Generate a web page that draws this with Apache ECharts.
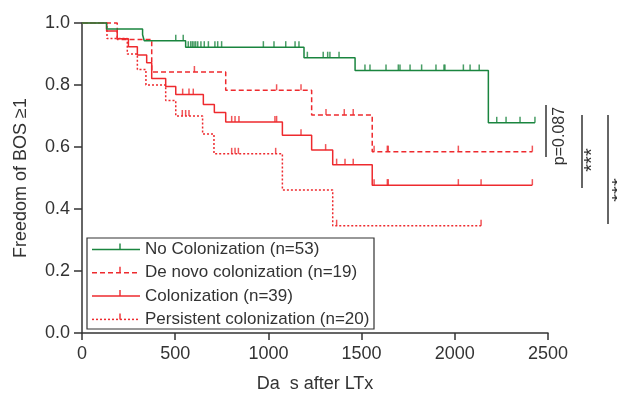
<!DOCTYPE html>
<html>
<head>
<meta charset="utf-8">
<script src="https://cdn.jsdelivr.net/npm/echarts@6/dist/echarts.min.js"></script>
<style>
html,body{margin:0;padding:0;background:#fff;}
#main{width:617px;height:398px;}
</style>
</head>
<body>
<div id="main"></div>
<script>
// groups
var groupNames = ['No Colonization (n=53)', 'De novo colonization (n=19)', 'Colonization (n=39)', 'Persistent colonization (n=20)'];
var groupColors = ['#1a853f', '#ee2a2e', '#ee2a2e', '#ee2a2e'];
var groupDash = ['solid', [5, 3], 'solid', [2, 2]];

// event times (days) and survival after each event
var noColTimes = [132, 325, 334, 556, 1191, 1465, 2180];
var noColSurv = [0.981, 0.962, 0.943, 0.922, 0.888, 0.847, 0.678];
var noColEnd = 2430;
var noColCensor = [503, 543, 570, 583, 592, 601, 610, 621, 638, 656, 678, 713, 728, 749, 973, 1030, 1093, 1143, 1164,
	1209, 1294, 1318, 1330, 1379, 1518, 1545, 1631, 1697, 1706, 1760, 1822, 1899, 1942, 1947, 2046, 2082, 2131,
	2225, 2275, 2350, 2430];

var deNovoTimes = [189, 374, 771, 1232, 1557];
var deNovoSurv = [0.947, 0.842, 0.783, 0.703, 0.585];
var deNovoEnd = 2416;
var deNovoCensor = [603, 1044, 1175, 1309, 1407, 1455, 1567, 1638, 1643, 2019, 2416];

var colTimes = [132, 189, 249, 297, 347, 374, 449, 503, 651, 710, 771, 1075, 1232, 1345, 1557];
var colSurv = [0.974, 0.949, 0.923, 0.897, 0.872, 0.821, 0.795, 0.769, 0.737, 0.711, 0.681, 0.638, 0.590, 0.543, 0.477];
var colEnd = 2416;
var colCensor = [540, 574, 597, 803, 821, 842, 1035, 1044, 1175, 1307, 1366, 1411, 1455, 1567, 1638, 1643, 2019, 2141, 2416];

var persTimes = [134, 243, 297, 343, 449, 503, 647, 708, 1075, 1345];
var persSurv = [0.95, 0.90, 0.85, 0.80, 0.75, 0.70, 0.642, 0.578, 0.461, 0.346];
var persEnd = 2141;
var persCensor = [538, 556, 574, 803, 821, 839, 1039, 1366, 2141];

var xTicks = [0, 500, 1000, 1500, 2000, 2500];
var yTicks = [0, 0.2, 0.4, 0.6, 0.8, 1.0];

var groups = [
	{times: noColTimes, surv: noColSurv, end: noColEnd, censor: noColCensor},
	{times: deNovoTimes, surv: deNovoSurv, end: deNovoEnd, censor: deNovoCensor},
	{times: colTimes, surv: colSurv, end: colEnd, censor: colCensor},
	{times: persTimes, surv: persSurv, end: persEnd, censor: persCensor}
];

// step curve points
function curveData(g) {
	var d = [[0, 1]];
	for (var i = 0; i < g.times.length; i++) {
		d.push([g.times[i], g.surv[i]]);
	}
	d.push([g.end, g.surv[g.surv.length - 1]]);
	return d;
}
// survival level at time t
function levelAt(g, t) {
	var s = 1;
	for (var i = 0; i < g.times.length; i++) {
		if (g.times[i] <= t) s = g.surv[i];
	}
	return s;
}

var series = [];
// draw order: persistent, colonization, de novo, then no colonization on top
[3, 2, 1, 0].forEach(function(k) {
	var g = groups[k];
	series.push({
		name: groupNames[k],
		type: 'line',
		step: 'end',
		showSymbol: false,
		clip: false,
		silent: true,
		lineStyle: {color: groupColors[k], width: 1.5, type: groupDash[k]},
		data: curveData(g),
		z: 2 + (3 - k)
	});
	series.push({
		name: groupNames[k] + ' censored',
		type: 'scatter',
		symbol: 'rect',
		symbolSize: [1.5, 6],
		symbolOffset: [0, -3],
		itemStyle: {color: groupColors[k]},
		silent: true,
		clip: false,
		data: g.censor.map(function(t) { return [t, levelAt(g, t)]; }),
		z: 2 + (3 - k)
	});
});

// legend box drawn by hand
var legendX = 87, legendY = 238, legendW = 287, legendH = 91;
var legendEls = [{
	type: 'rect',
	shape: {x: legendX, y: legendY, width: legendW, height: legendH},
	style: {fill: '#fff', stroke: '#333', lineWidth: 1.2},
	z: 10
}];
for (var i = 0; i < groupNames.length; i++) {
	var ly = 249.5 + i * 23.3;
	legendEls.push({
		type: 'line',
		shape: {x1: 92, y1: ly, x2: 140, y2: ly},
		style: {stroke: groupColors[i], lineWidth: 1.5, lineDash: groupDash[i] === 'solid' ? null : groupDash[i]},
		z: 11
	});
	legendEls.push({
		type: 'line',
		shape: {x1: 120, y1: ly, x2: 120, y2: ly - 6},
		style: {stroke: groupColors[i], lineWidth: 1.4},
		z: 11
	});
	legendEls.push({
		type: 'text',
		x: 145,
		y: ly,
		style: {text: groupNames[i], font: '17px "Liberation Sans", Arial, sans-serif', fill: '#333', verticalAlign: 'middle'},
		z: 11
	});
}

// significance brackets
var pText = ['p=0.087', '***', '***'];
var annot = [
	{type: 'line', shape: {x1: 546, y1: 105, x2: 546, y2: 157}, style: {stroke: '#333', lineWidth: 1.5}},
	{type: 'text', x: 560, y: 136, rotation: Math.PI / 2,
		style: {text: pText[0], font: '16px "Liberation Sans", Arial, sans-serif', fill: '#333', align: 'center', verticalAlign: 'middle'}},
	{type: 'line', shape: {x1: 582, y1: 115, x2: 582, y2: 188}, style: {stroke: '#333', lineWidth: 1.5}},
	{type: 'text', x: 592, y: 160, rotation: Math.PI / 2,
		style: {text: pText[1], font: '20px "Liberation Sans", Arial, sans-serif', fill: '#333', align: 'center', verticalAlign: 'middle'}},
	{type: 'line', shape: {x1: 608, y1: 115, x2: 608, y2: 224}, style: {stroke: '#333', lineWidth: 1.5}},
	{type: 'text', x: 620, y: 190, rotation: Math.PI / 2,
		style: {text: pText[2], font: '20px "Liberation Sans", Arial, sans-serif', fill: '#333', align: 'center', verticalAlign: 'middle'}}
];

var axisFont = '"Liberation Sans", Arial, sans-serif';
var option = {
	animation: false,
	backgroundColor: '#fff',
	grid: {left: 82, right: 69, top: 23, bottom: 62},
	xAxis: {
		type: 'value',
		min: xTicks[0],
		max: xTicks[xTicks.length - 1],
		interval: xTicks[1] - xTicks[0],
		name: 'Da  s after LTx',
		nameLocation: 'middle',
		nameGap: 42,
		nameTextStyle: {fontSize: 18, color: '#333', fontFamily: axisFont},
		axisLine: {lineStyle: {color: '#333', width: 1.5}},
		axisTick: {show: true, length: 7, lineStyle: {color: '#333', width: 1.5}},
		axisLabel: {fontSize: 18, color: '#333', fontFamily: axisFont, margin: 12,
			formatter: function(v) { return String(v); }},
		splitLine: {show: false}
	},
	yAxis: {
		type: 'value',
		min: yTicks[0],
		max: yTicks[yTicks.length - 1],
		interval: 0.2,
		name: 'Freedom of BOS \u22651',
		nameLocation: 'middle',
		nameGap: 52,
		nameTextStyle: {fontSize: 18, color: '#333', fontFamily: axisFont},
		axisLine: {show: true, lineStyle: {color: '#333', width: 1.5}},
		axisTick: {show: true, length: 8, lineStyle: {color: '#333', width: 1.5}},
		axisLabel: {fontSize: 18, color: '#333', fontFamily: axisFont, margin: 12,
			formatter: function(v) { return v.toFixed(1); }},
		splitLine: {show: false}
	},
	graphic: legendEls.concat(annot),
	series: series
};

var myChart = echarts.init(document.getElementById('main'));
myChart.setOption(option);
</script>
</body>
</html>
